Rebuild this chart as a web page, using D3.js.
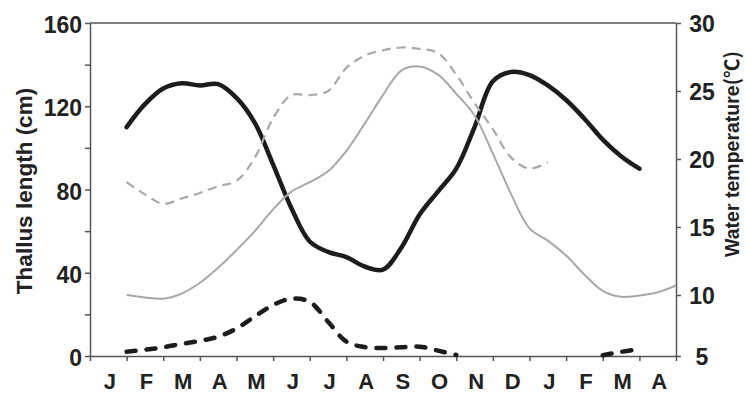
<!DOCTYPE html>
<html>
<head>
<meta charset="utf-8">
<script src="https://cdn.jsdelivr.net/npm/d3@7"></script>
<style>
  html, body { margin: 0; padding: 0; background: #fff; }
  svg { display: block; }
  .axis text { font-family: "Liberation Sans", Arial, sans-serif; font-weight: bold; fill: #222; }
  .axis path, .axis line { stroke: #555; stroke-width: 1.5px; }
</style>
</head>
<body>
<svg id="chart" width="747" height="395"></svg>
<script>
// Month initials along the bottom (two seasons, Jan through the following Apr)
const monthLabels = ["J","F","M","A","M","J","J","A","S","O","N","D","J","F","M","A"];

// Sampling dates, in months from the start of the first January (semi-monthly)
const sampleMonth = [1,1.5,2,2.5,3,3.5,4,4.5,5,5.5,6,6.5,7,7.5,8,8.5,9,9.5,10,10.5,11,11.5,12,12.5,13,13.5,14,14.5,15,15.5,16];

// Mean thallus length of the adult stand (cm)
const thallusLength = [110,121,128.5,131,130,130.6,124,112,92,71,55,50,47.5,43,41.5,52,68,79,90,110,132,136.5,135,130,123,114,104,96,90,null,null];

// Thallus length of the new cohort (cm)
const cohortLength = [2,3,4.2,5.8,7.3,9.3,13.2,19,24.5,27.5,26,16.5,6.9,4.3,3.8,4.2,4.5,2.6,0.5,null,null,null,null,null,null,null,0.4,2,3.3,null,null];

// Water temperature, two stations (°C)
const waterTempA = [10.0,9.8,9.7,10.1,10.9,12.0,13.3,14.7,16.3,17.6,18.3,19.1,20.6,22.6,24.7,26.5,26.8,26.2,24.8,23.2,20.4,17.4,14.9,14.0,12.9,11.5,10.3,9.85,9.95,10.2,10.7];
const waterTempB = [18.3,17.4,16.7,17.1,17.5,18.0,18.4,20.1,23.0,24.7,24.7,25.0,26.7,27.6,28.0,28.2,28.1,27.8,26.2,24.1,22.2,20.1,19.3,19.75,null,null,null,null,null,null,null];

// Axis ticks
const lengthTicks = [0,40,80,120,160];
const lengthMinorTicks = [20,60,100,140];
const tempTicks = [5,10,15,20,25,30];

const svg = d3.select("#chart");
const plotLeft = 90, plotRight = 676, plotTop = 23, plotBottom = 356;

const x = d3.scaleLinear().domain([0, 16]).range([plotLeft, plotRight]);
const yLen = d3.scaleLinear().domain([0, 160]).range([plotBottom, plotTop]);
// temperature axis: the 5–10 °C step is drawn shorter than the others
const yTemp = d3.scaleLinear().domain([5, 10, 30]).range([plotBottom, 295, plotTop]);

// frame top edge
svg.append("line")
  .attr("x1", plotLeft).attr("x2", plotRight).attr("y1", plotTop).attr("y2", plotTop)
  .attr("stroke", "#555").attr("stroke-width", 1.5);

// left axis (length)
const gL = svg.append("g").attr("class", "axis").attr("transform", `translate(${plotLeft},0)`)
  .call(d3.axisLeft(yLen).tickValues(lengthTicks).tickSize(5).tickPadding(3).tickSizeOuter(0));
gL.selectAll("text").style("font-size", "23px").attr("dy", "0.42em").attr("x", -8);
svg.append("g").attr("class", "axis").attr("transform", `translate(${plotLeft},0)`)
  .call(d3.axisLeft(yLen).tickValues(lengthMinorTicks).tickSize(5).tickFormat("").tickSizeOuter(0))
  .select(".domain").remove();

// right axis (temperature)
const gR = svg.append("g").attr("class", "axis").attr("transform", `translate(${plotRight},0)`)
  .call(d3.axisRight(yTemp).tickValues(tempTicks).tickSize(5).tickSizeOuter(0));
gR.selectAll("text").style("font-size", "23px").attr("text-anchor", "middle")
  .attr("x", 26).attr("dy", "0.36em");

// bottom axis: ticks at month boundaries, labels centred in each month
svg.append("g").attr("class", "axis").attr("transform", `translate(0,${plotBottom})`)
  .call(d3.axisBottom(x).tickValues(d3.range(0, 17)).tickSize(5).tickFormat("").tickSizeOuter(0));
const gX = svg.append("g").attr("class", "axis").attr("transform", `translate(0,${plotBottom})`)
  .call(d3.axisBottom(x).tickValues(monthLabels.map((d, i) => i + 0.5))
    .tickSize(0).tickPadding(17).tickFormat((d, i) => monthLabels[i]));
gX.select(".domain").remove();
gX.selectAll("text").style("font-size", "22px").attr("dx", "1");

// axis titles
svg.append("text")
  .attr("transform", "translate(32,191) rotate(-90)")
  .attr("text-anchor", "middle")
  .style("font-family", "'Liberation Sans', Arial, sans-serif")
  .style("font-weight", "bold").style("font-size", "22.5px").attr("fill", "#222")
  .text("Thallus length (cm)");
const tt = svg.append("text")
  .attr("transform", "translate(739,154) rotate(-90)")
  .attr("text-anchor", "middle")
  .style("font-family", "'Liberation Sans', Arial, sans-serif")
  .style("font-weight", "bold").style("font-size", "19.5px").attr("fill", "#222");
tt.append("tspan").text("Water temperature");
tt.append("tspan").style("font-family", "'Noto Sans CJK SC', sans-serif").text("(℃)");

// series
function series(values, yScale) {
  return d3.line()
    .defined((d, i) => values[i] !== null)
    .x((d, i) => x(sampleMonth[i]))
    .y((d, i) => yScale(values[i]))
    .curve(d3.curveCatmullRom.alpha(0.5))(values);
}

svg.append("path").attr("d", series(thallusLength, yLen))
  .attr("fill", "none").attr("stroke", "#1c1c1c").attr("stroke-width", 4.5)
  .attr("stroke-linecap", "round").attr("stroke-linejoin", "round");
svg.append("path").attr("d", series(cohortLength, yLen))
  .attr("fill", "none").attr("stroke", "#1c1c1c").attr("stroke-width", 4.5)
  .attr("stroke-linecap", "round").attr("stroke-dasharray", "9,11");
svg.append("path").attr("d", series(waterTempA, yTemp))
  .attr("fill", "none").attr("stroke", "#a8a8a8").attr("stroke-width", 2);
svg.append("path").attr("d", series(waterTempB, yTemp))
  .attr("fill", "none").attr("stroke", "#a8a8a8").attr("stroke-width", 2.2)
  .attr("stroke-dasharray", "9,6");
</script>
</body>
</html>
